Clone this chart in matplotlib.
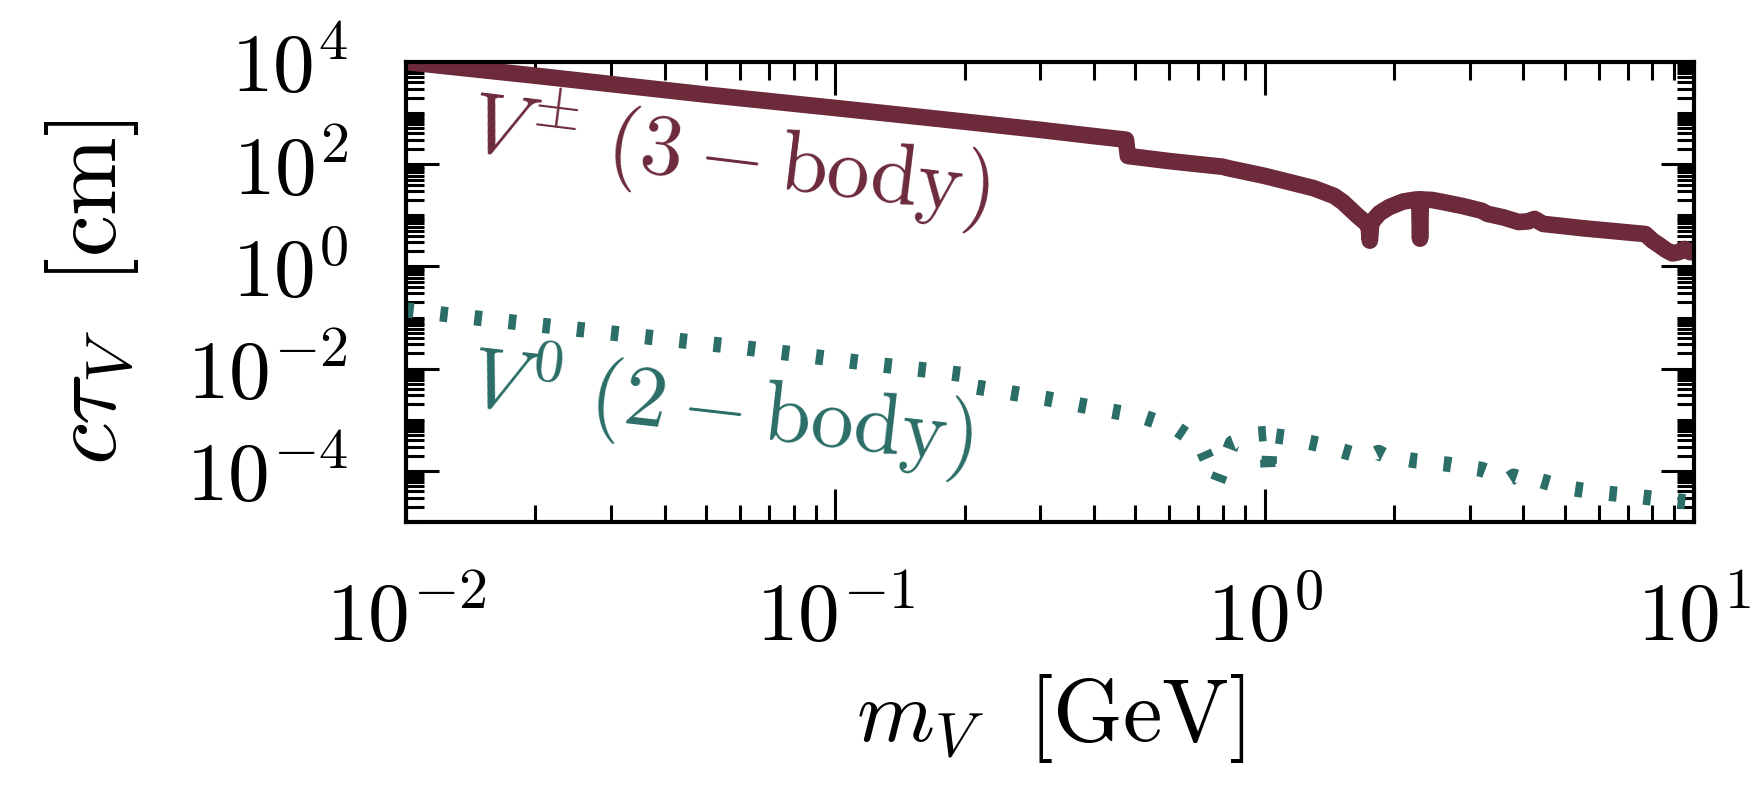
import numpy as np
import matplotlib
matplotlib.use("Agg")
import matplotlib.pyplot as plt
from matplotlib.ticker import FixedLocator, LogLocator, FuncFormatter, NullFormatter

plt.rcParams['mathtext.fontset'] = 'cm'
plt.rcParams['font.family'] = 'serif'
plt.rcParams['font.serif'] = ['cmr10', 'DejaVu Serif']

# Charged vector V^{+-}: three-body decay length c*tau [cm] vs mass [GeV]
m_charged = [0.01, 0.02, 0.05, 0.1, 0.2, 0.3, 0.4, 0.475, 0.48, 0.6, 0.8, 0.82,
             1.0, 1.15, 1.3, 1.45, 1.52, 1.64, 1.72, 1.745, 1.757, 1.77, 1.78,
             1.85, 1.95, 2.1, 2.25, 2.29, 2.30, 2.31, 2.45, 2.6, 2.9, 3.2, 3.3,
             3.6, 3.9, 4.1, 4.25, 4.45, 5.5, 7.7, 8.0, 8.3, 8.6, 8.9, 9.2, 9.5,
             9.8, 10.0]
ctau_charged = [1.0e4, 5.4e3, 2.3e3, 1.26e3, 680, 470, 355, 302, 145, 115, 89, 84,
                59, 44, 34, 24, 18.2, 10.0, 7.1, 6.3, 3.2, 6.9, 7.6,
                11.0, 14.5, 18.6, 20.4, 20.4, 3.5, 20.4, 20.0, 18.2, 15.1, 12.3, 10.7,
                9.1, 7.4, 7.6, 8.5, 6.8, 5.6, 4.3, 3.2, 2.6, 2.1, 1.8, 1.9, 2.2,
                1.9, 1.9]

# Neutral vector V^0: two-body decay length c*tau [cm] vs mass [GeV]
m_neutral = [0.01, 0.015, 0.03, 0.06, 0.12, 0.18, 0.21, 0.212, 0.26, 0.31, 0.37,
             0.44, 0.52, 0.62, 0.71, 0.775, 0.84, 0.95, 1.01, 1.02, 1.03, 1.13,
             1.36, 1.62, 1.78, 1.84, 1.9, 2.24, 2.67, 3.2, 3.7, 3.8, 4.2, 4.35,
             5.0, 6.0, 7.1, 8.5, 10.0]
ctau_neutral = [0.141, 0.0955, 0.050, 0.0263, 0.0126, 8.5e-3, 7.2e-3, 4.4e-3, 3.3e-3,
                2.6e-3, 1.95e-3, 1.48e-3, 1.15e-3, 6.9e-4, 3.2e-4, 6.0e-5, 3.5e-4,
                5.2e-4, 5.4e-4, 7.0e-5, 5.0e-4, 4.5e-4, 3.2e-4, 2.1e-4, 2.0e-4,
                2.3e-4, 2.0e-4, 1.58e-4, 1.35e-4, 1.07e-4, 6.8e-5, 7.9e-5, 5.9e-5,
                6.6e-5, 4.7e-5, 3.8e-5, 3.3e-5, 2.75e-5, 2.4e-5]

y_major = [1e-4, 1e-2, 1e0, 1e2, 1e4]
x_major = [1e-2, 1e-1, 1e0, 1e1]

c_charged = '#6C2A3B'
c_neutral = '#2B6E67'

fig = plt.figure(figsize=(8.785, 4.0), dpi=200)
ax = fig.add_axes([0.2311, 0.3475, 0.7331, 0.575])

ax.plot(m_charged, ctau_charged, color=c_charged, lw=6.0,
        solid_joinstyle='round', solid_capstyle='round')
ax.plot(m_neutral, ctau_neutral, color=c_neutral, lw=5.5,
        linestyle=(0, (0.5, 1.75)))

ax.set_xscale('log')
ax.set_yscale('log')
ax.set_xlim(1e-2, 1e1)
ax.set_ylim(1e-5, 1e4)

fmt = FuncFormatter(lambda v, p: r'$10^{%d}$' % int(round(np.log10(v))))
ax.xaxis.set_major_locator(FixedLocator(x_major))
ax.yaxis.set_major_locator(FixedLocator(y_major))
ax.xaxis.set_major_formatter(fmt)
ax.yaxis.set_major_formatter(fmt)
ax.xaxis.set_minor_locator(LogLocator(base=10, subs=np.arange(2, 10), numticks=100))
ax.yaxis.set_minor_locator(LogLocator(base=10, subs=np.arange(1, 10), numticks=100))
ax.xaxis.set_minor_formatter(NullFormatter())
ax.yaxis.set_minor_formatter(NullFormatter())

ax.tick_params(which='both', direction='in', top=True, right=True)
ax.tick_params(which='major', length=12, width=1.1, pad=21, labelsize=30)
ax.tick_params(which='minor', length=6.3, width=1.1)
for s in ax.spines.values():
    s.set_linewidth(1.5)

ax.set_xlabel(r'$m_V\ \ [\mathrm{GeV}]$', fontsize=32, labelpad=5)
ax.set_ylabel(r'$c\tau_V\ \ [\mathrm{cm}]$', fontsize=34, labelpad=16)

ax.text(0.0139, 185, r'$V^{\pm}\ (3-\mathrm{body})$', color=c_charged,
        fontsize=31, rotation=-7, rotation_mode='anchor',
        ha='left', va='baseline')
ax.text(0.0139, 1.9e-3, r'$V^{0}\ (2-\mathrm{body})$', color=c_neutral,
        fontsize=31, rotation=-6.5, rotation_mode='anchor',
        ha='left', va='baseline')

fig.savefig('out.png', dpi=200)
